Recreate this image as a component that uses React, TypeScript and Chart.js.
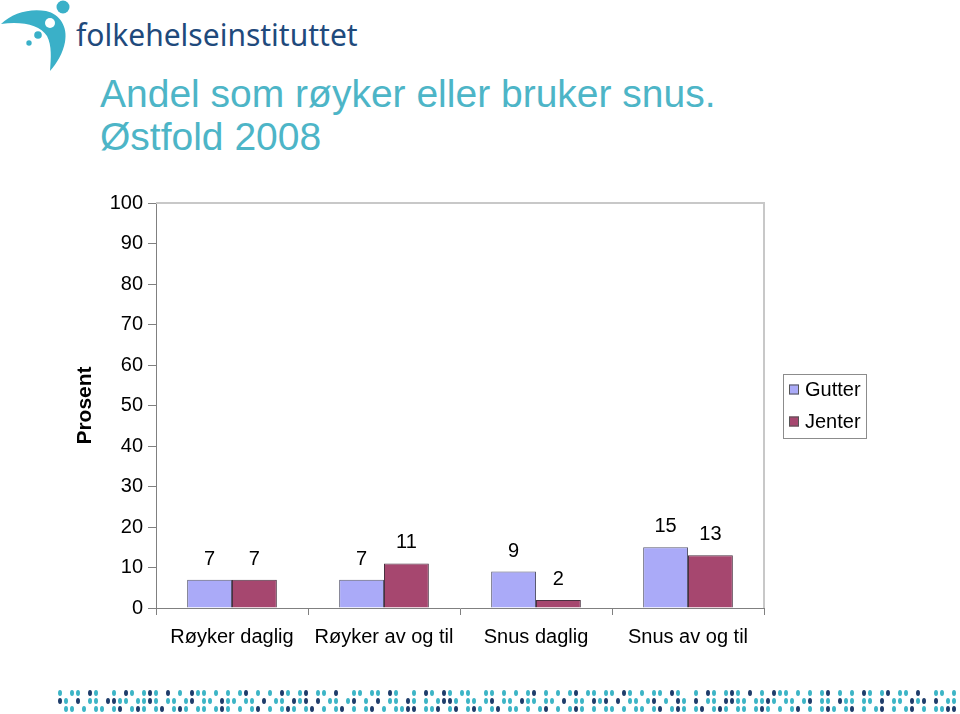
import React, { useEffect, useRef } from "react";
import { Chart, registerables } from "chart.js";

Chart.register(...registerables);

const categories = ["Røyker daglig", "Røyker av og til", "Snus daglig", "Snus av og til"];
const seriesNames = ["Gutter", "Jenter"];
const gutterValues = [7, 7, 9, 15];
const jenterValues = [7, 11, 2, 13];
const seriesColors = ["#AAAAF8", "#A6476F"];
const yMin = 0;
const yMax = 100;
const yStep = 10;

const titleLines = ["Andel som røyker eller bruker snus.", "Østfold 2008"];
const yAxisTitle = "Prosent";
const logoText = "folkehelseinstituttet";

const dotRows = [
  "t tt nt  t nt tnt n t ntt t t tn t t nt tn tt n  tt tt nt  t nt nt tt  tt t t tn t t tn tt tt nt t tt nt  t nt tnt n t ntt t t tn t t nt tn tt n  tt tt nt",
  "nt n tt nntt ttnt tt tn tt ntt tt n tt ntn n tt tn t n tt nt t tnnt tt tn tt ntt tt n tt ntn n tt tn t nt n tt nntt ttnt tt tn tt ntt tt n tt ntn n tt tn",
  "tt t tt tn tnt tn tnt tt tnt t tn t tnt tn t tn t tn t ttnn ttn tn tnt tn tt t tn t tnt t tt t tt tn tnt tn tnt tt tnt t tn t tnt tn t tn t tn t ttnn",
];

const FONT = "'Liberation Sans', Arial, Helvetica, sans-serif";

const valueLabelPlugin = {
  id: "valueLabels",
  afterDatasetsDraw(chart: any) {
    const ctx = chart.ctx;
    ctx.save();
    ctx.font = `20px ${FONT}`;
    ctx.fillStyle = "#000";
    ctx.textAlign = "center";
    ctx.textBaseline = "alphabetic";
    chart.data.datasets.forEach((ds: any, di: number) => {
      const meta = chart.getDatasetMeta(di);
      meta.data.forEach((bar: any, i: number) => {
        ctx.fillText(String(ds.data[i]), bar.x, bar.y - 15);
      });
    });
    ctx.restore();
  },
};

const frameAndLegendPlugin = {
  id: "frameAndLegend",
  afterDraw(chart: any) {
    const ctx = chart.ctx;
    const a = chart.chartArea;
    ctx.save();
    ctx.strokeStyle = "#C8C8C8";
    ctx.lineWidth = 2;
    ctx.beginPath();
    ctx.moveTo(a.left, a.top);
    ctx.lineTo(a.right, a.top);
    ctx.lineTo(a.right, a.bottom);
    ctx.stroke();

    const lx = a.right + 19;
    const lw = 83;
    const itemGap = 32;
    const n = chart.data.datasets.length;
    const lh = itemGap * n;
    const cy = (a.top + a.bottom) / 2;
    const ly = cy - lh / 2;
    ctx.lineWidth = 1;
    ctx.strokeStyle = "#8C8C8C";
    ctx.strokeRect(Math.round(lx) + 0.5, Math.round(ly) + 0.5, lw, lh);
    ctx.font = `20px ${FONT}`;
    ctx.textBaseline = "middle";
    ctx.textAlign = "left";
    chart.data.datasets.forEach((ds: any, i: number) => {
      const iy = ly + itemGap * (i + 0.5);
      ctx.fillStyle = ds.backgroundColor;
      ctx.fillRect(lx + 6, iy - 5, 10, 10);
      ctx.strokeStyle = "#555";
      ctx.strokeRect(lx + 6.5, iy - 4.5, 9, 9);
      ctx.fillStyle = "#000";
      ctx.fillText(ds.label, lx + 22, iy + 1);
    });
    ctx.restore();
  },
};

function BarChart() {
  const ref = useRef<HTMLCanvasElement | null>(null);
  useEffect(() => {
    if (!ref.current) return;
    const chart = new Chart(ref.current, {
      type: "bar",
      data: {
        labels: categories,
        datasets: [
          {
            label: seriesNames[0],
            data: gutterValues,
            backgroundColor: seriesColors[0],
            borderColor: "#5A5A70",
            borderWidth: 1,
            categoryPercentage: 0.59,
            barPercentage: 1,
          },
          {
            label: seriesNames[1],
            data: jenterValues,
            backgroundColor: seriesColors[1],
            borderColor: "#4A3040",
            borderWidth: 1,
            categoryPercentage: 0.59,
            barPercentage: 1,
          },
        ],
      },
      options: {
        responsive: false,
        animation: false,
        maintainAspectRatio: false,
        layout: { padding: { left: 0, top: 203, right: 196, bottom: 0 } },
        plugins: {
          legend: { display: false },
          title: { display: false },
          tooltip: { enabled: false },
        },
        scales: {
          x: {
            grid: {
              drawOnChartArea: false,
              drawTicks: true,
              tickLength: 7,
              color: "#808080",
              offset: true,
            },
            border: { color: "#808080", width: 1 },
            ticks: {
              font: { family: FONT, size: 20 },
              color: "#000",
              padding: 10,
              maxRotation: 0,
              autoSkip: false,
            },
            afterFit: (s: any) => {
              s.height = 106;
            },
          },
          y: {
            min: yMin,
            max: yMax,
            grid: {
              drawOnChartArea: false,
              drawTicks: true,
              tickLength: 8,
              color: "#808080",
            },
            border: { color: "#808080", width: 1 },
            ticks: {
              stepSize: yStep,
              font: { family: FONT, size: 20 },
              color: "#000",
              padding: 5,
            },
            title: {
              display: true,
              text: yAxisTitle,
              font: { family: FONT, size: 21, weight: "bold" },
              color: "#000",
              padding: { top: 73, bottom: 0 },
            },
            afterFit: (s: any) => {
              s.width = 156;
            },
          },
        },
      },
      plugins: [valueLabelPlugin, frameAndLegendPlugin],
    } as any);
    return () => chart.destroy();
  }, []);
  return (
    <canvas
      ref={ref}
      width={960}
      height={714}
      style={{ position: "absolute", left: 0, top: 0, width: 960, height: 714 }}
    />
  );
}

function Logo() {
  return (
    <div style={{ position: "absolute", left: 0, top: 0, width: 400, height: 75 }}>
      <svg width={80} height={75} viewBox="0 0 80 75" style={{ position: "absolute", left: 0, top: 0 }}>
        <path
          d="M1,24 C12,13 30,8 46,11 C60,14 68,27 65,42 C63,53 57,63 50,71 C51,58 52,46 47,36 C40,25 22,21 1,24 Z"
          fill="#3AB0C8"
        />
        <circle cx={63} cy={7} r={6.5} fill="#3AB0C8" />
        <circle cx={50} cy={23} r={5} fill="#fff" />
        <circle cx={38} cy={35} r={3.8} fill="#3AB0C8" />
        <circle cx={29} cy={43} r={2.7} fill="#3AB0C8" />
      </svg>
      <div
        style={{
          position: "absolute",
          left: 76,
          top: 15,
          fontFamily: "'Noto Sans', sans-serif",
          fontSize: 30,
          color: "#1F4A7C",
          lineHeight: "40px",
          whiteSpace: "nowrap",
        }}
      >
        {logoText}
      </div>
    </div>
  );
}

function Dots() {
  const els: React.ReactElement[] = [];
  dotRows.forEach((row, r) => {
    const startX = r === 2 ? 66 : 60;
    const y = 693 + r * 8;
    for (let i = 0; i < row.length; i++) {
      const c = row[i];
      if (c === " ") continue;
      const x = startX + i * 6;
      if (x > 958) break;
      els.push(
        <ellipse key={`${r}-${i}`} cx={x} cy={y} rx={2} ry={3} fill={c === "n" ? "#1F3D6B" : "#3DB5C6"} />
      );
    }
  });
  return (
    <svg width={960} height={714} style={{ position: "absolute", left: 0, top: 0, pointerEvents: "none" }}>
      {els}
    </svg>
  );
}

export default function App() {
  return (
    <div style={{ position: "absolute", left: 0, top: 0, width: 960, height: 714, background: "#fff", overflow: "hidden" }}>
      <Logo />
      <div
        style={{
          position: "absolute",
          left: 100,
          top: 72,
          fontFamily: FONT,
          fontSize: 39,
          lineHeight: "43px",
          color: "#4DB5C7",
          whiteSpace: "nowrap",
        }}
      >
        {titleLines.map((l, i) => (
          <div key={i}>{l}</div>
        ))}
      </div>
      <Dots />
      <BarChart />
    </div>
  );
}
